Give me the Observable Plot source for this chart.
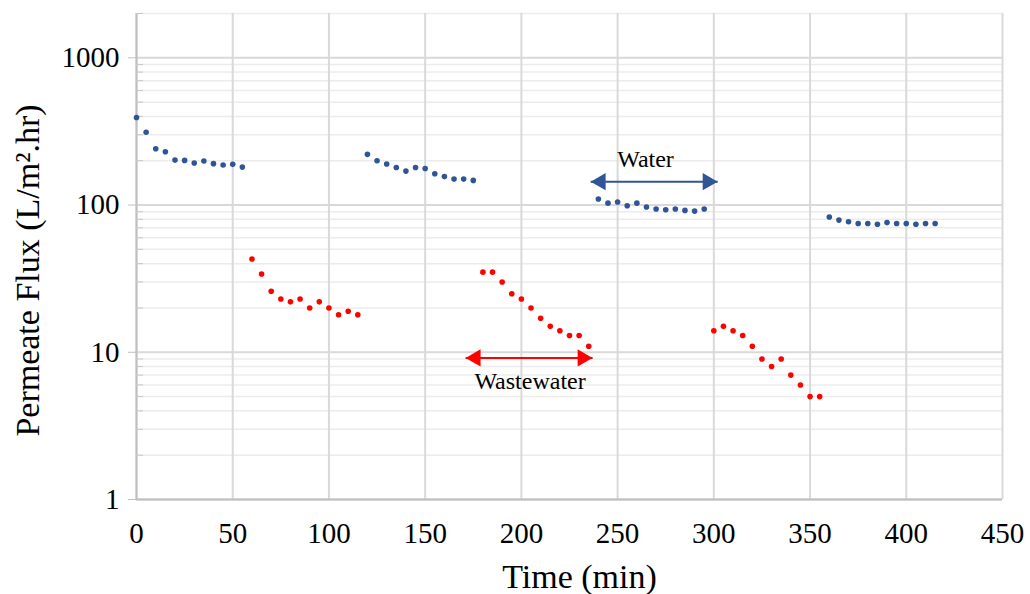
<!DOCTYPE html>
<html><head><meta charset="utf-8">
<script src="https://cdn.jsdelivr.net/npm/d3@7"></script>
<script src="https://cdn.jsdelivr.net/npm/@observablehq/plot@0.6"></script>
<style>body{margin:0;background:#fff}</style>
</head><body><div id="chart"></div>
<script>
// Water (blue) series
const waterTime = [0,5,10,15,20,25,30,35,40,45,50,55,
  120,125,130,135,140,145,150,155,160,165,170,175,
  240,245,250,255,260,265,270,275,280,285,290,295,
  360,365,370,375,380,385,390,395,400,405,410,415];
const waterFlux = [393,312,241,230,202,201,193,199,191,187,189,181,
  221,200,190,180,170,180,177,163,156,150,150,147,
  110,103,105,99,103,97,94,93,94,92,91,94,
  83,79,77,75,75,74,76,75,75,74,75,75];
// Wastewater (red) series
const wasteTime = [60,65,70,75,80,85,90,95,100,105,110,115,
  180,185,190,195,200,205,210,215,220,225,230,235,
  300,305,310,315,320,325,330,335,340,345,350,355];
const wasteFlux = [43,34,26,23,22,23,20,22,20,18,19,18,
  35,35,30,25,23,20,17,15,14,13,13,11,
  14,15,14,13,11,9,8,9,7,6,5,5];

const xTicks = [0,50,100,150,200,250,300,350,400,450];
const yTicks = [1,10,100,1000];
const yMinor = [2,3,4,5,6,7,8,9,20,30,40,50,60,70,80,90,200,300,400,500,600,700,800,900,2000];

// Annotation arrows
const arrowLabels = ["Water","Wastewater"];
const arrowFrom = [236, 171];
const arrowTo = [302, 237];
const arrowFlux = [144, 9.15];
const arrowColors = ["#2F5597","#FF0000"];
const labelTime = [264.5, 204.5];
const labelFlux = [203, 6.35];

const blue = "#2F5597", red = "#FF0000";
const water = waterTime.map((t,i)=>({t, flux: waterFlux[i]}));
const waste = wasteTime.map((t,i)=>({t, flux: wasteFlux[i]}));
const arrows = arrowLabels.map((label,i)=>({label, from: arrowFrom[i], to: arrowTo[i], flux: arrowFlux[i], color: arrowColors[i], lt: labelTime[i], lf: labelFlux[i]}));

const chart = Plot.plot({
  width: 1030, height: 594,
  marginLeft: 136, marginRight: 28, marginTop: 13, marginBottom: 95,
  style: {fontFamily: "'Liberation Serif', 'Times New Roman', serif", background: "#fff", color: "#000"},
  x: {domain: [0,450]},
  y: {type: "log", domain: [1,2000]},
  marks: [
    Plot.gridY(yMinor, {stroke: "#ececec", strokeOpacity: 1, strokeWidth: 1.5}),
    Plot.gridY(yTicks, {stroke: "#d9d9d9", strokeOpacity: 1, strokeWidth: 2}),
    Plot.gridX(xTicks, {stroke: "#d9d9d9", strokeOpacity: 1, strokeWidth: 2}),
    Plot.ruleX([0], {stroke: "#bfbfbf", strokeWidth: 2}),
    Plot.ruleY([1], {stroke: "#bfbfbf", strokeWidth: 2}),
    Plot.axisY(yMinor, {tickSize: 7, dx: 7, tickFormat: () => "", stroke: "#c8c8c8", label: null}),
    Plot.axisY(yTicks, {tickSize: 8, tickPadding: 9, fontSize: 29, tickFormat: d => String(d), stroke: "#bfbfbf", fill: "#000", label: null}),
    Plot.axisX(xTicks, {tickSize: 0, tickPadding: 23, fontSize: 29, tickFormat: d => String(d), fill: "#000", label: null}),
    Plot.text(["Time (min)"], {frameAnchor: "bottom", dy: 78, dx: 10, fontSize: 34, lineAnchor: "middle", fill: "#000"}),
    Plot.text(["Permeate Flux (L/m².hr)"], {frameAnchor: "left", textAnchor: "middle", dx: -108, dy: 14, rotate: -90, fontSize: 34, lineAnchor: "middle", fill: "#000"}),
    Plot.dot(water, {x: "t", y: "flux", r: 2.8, fill: blue, stroke: "none"}),
    Plot.dot(waste, {x: "t", y: "flux", r: 2.8, fill: red, stroke: "none"}),
    Plot.link(arrows, {x1: "from", x2: "to", y1: "flux", y2: "flux", stroke: "color", strokeWidth: 2}),
    Plot.dot(arrows, {x: "to", y: "flux", symbol: "triangle", r: 6.4, rotate: 90, dx: -10, fill: "color", stroke: "none"}),
    Plot.dot(arrows, {x: "from", y: "flux", symbol: "triangle", r: 6.4, rotate: -90, dx: 10, fill: "color", stroke: "none"}),
    Plot.text(arrows, {x: "lt", y: "lf", text: "label", fontSize: 24, lineAnchor: "middle", fill: "#000"})
  ]
});
document.getElementById("chart").appendChild(chart);
</script>
</body></html>
